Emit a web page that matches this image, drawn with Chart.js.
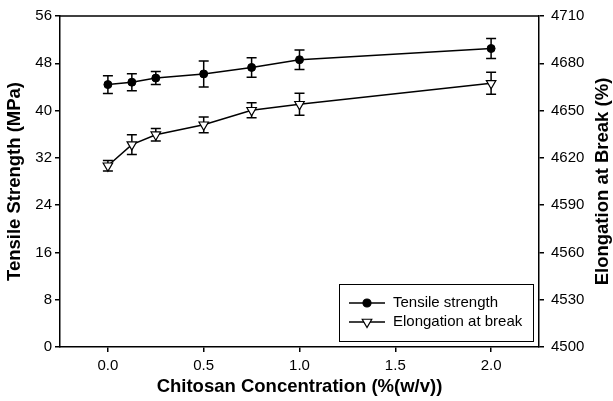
<!DOCTYPE html>
<html>
<head>
<meta charset="utf-8">
<title>Chitosan films</title>
<script src="https://cdn.jsdelivr.net/npm/chart.js@4.4.1/dist/chart.umd.min.js"></script>
<style>
  html, body { margin: 0; padding: 0; background: #fff; }
  #wrap { width: 613px; height: 401px; }
</style>
</head>
<body>
<div id="wrap"><canvas id="grafico" width="613" height="401"></canvas></div>
<script>
// concentração de quitosana (%(w/v))
const concentrations = [0, 0.125, 0.25, 0.5, 0.75, 1.0, 2.0];
// resistência à tração (MPa) e desvio
const tensileStrength = [44.4, 44.8, 45.5, 46.2, 47.3, 48.6, 50.5];
const tensileErr = [1.5, 1.45, 1.1, 2.2, 1.65, 1.65, 1.7];
// alongamento na ruptura (%) e desvio
const elongation = [4615, 4628.4, 4634.7, 4641, 4650.2, 4654, 4667.3];
const elongationErr = [3.4, 6.3, 4, 5, 4.7, 7, 7];

const xTicks = [0, 0.5, 1.0, 1.5, 2.0];
const leftTicks = [0, 8, 16, 24, 32, 40, 48, 56];
const rightTicks = [4500, 4530, 4560, 4590, 4620, 4650, 4680, 4710];

const fonte = 'Arial, "Liberation Sans", sans-serif';
const tamTitulo = 18.5;

function pontos(ys) {
    return concentrations.map((x, i) => ({ x: x, y: ys[i] }));
}

// barras de erro desenhadas com as escalas do próprio gráfico
const errorBarsPlugin = {
    id: 'errorBars',
    beforeDatasetsDraw(chart) {
        const ctx = chart.ctx;
        const xScale = chart.scales.x;
        chart.data.datasets.forEach(ds => {
            const yScale = chart.scales[ds.yAxisID];
            ctx.save();
            ctx.strokeStyle = '#000';
            ctx.lineWidth = 1.5;
            ds.data.forEach((p, i) => {
                const e = ds.errorBars[i];
                const px = xScale.getPixelForValue(p.x);
                const top = yScale.getPixelForValue(p.y + e);
                const bot = yScale.getPixelForValue(p.y - e);
                ctx.beginPath();
                ctx.moveTo(px, top); ctx.lineTo(px, bot);
                ctx.moveTo(px - 5, top); ctx.lineTo(px + 5, top);
                ctx.moveTo(px - 5, bot); ctx.lineTo(px + 5, bot);
                ctx.stroke();
            });
            ctx.restore();
        });
    }
};

function desenhaMarcador(ctx, ds, x, y) {
    ctx.beginPath();
    if (ds.pointStyle === 'circle') {
        ctx.arc(x, y, ds.pointRadius, 0, Math.PI * 2);
    } else {
        const r = ds.pointRadius;
        ctx.moveTo(x, y + r);
        ctx.lineTo(x - r * 0.866, y - r * 0.5);
        ctx.lineTo(x + r * 0.866, y - r * 0.5);
        ctx.closePath();
    }
    ctx.fillStyle = ds.pointBackgroundColor;
    ctx.fill();
    ctx.lineWidth = 1.2;
    ctx.strokeStyle = '#000';
    ctx.stroke();
}

// moldura superior, título do eixo direito e legenda dentro da área
const extrasPlugin = {
    id: 'extras',
    afterDraw(chart) {
        const ctx = chart.ctx;
        const area = chart.chartArea;
        ctx.save();
        ctx.strokeStyle = '#000';
        ctx.lineWidth = 1.5;
        ctx.beginPath();
        ctx.moveTo(area.left, area.top);
        ctx.lineTo(area.right, area.top);
        ctx.stroke();

        // título do eixo direito, lido de baixo para cima
        ctx.fillStyle = '#000';
        ctx.font = 'bold ' + tamTitulo + 'px ' + fonte;
        ctx.textAlign = 'center';
        ctx.textBaseline = 'middle';
        ctx.translate(603, (area.top + area.bottom) / 2);
        ctx.rotate(-Math.PI / 2);
        ctx.fillText('Elongation at Break (%)', 0, 0);
        ctx.restore();

        // legenda
        const bx = area.right - 200, by = area.bottom - 63;
        ctx.save();
        ctx.strokeStyle = '#000';
        ctx.lineWidth = 1;
        ctx.strokeRect(bx + 0.5, by + 0.5, 194, 57);
        ctx.font = '15px ' + fonte;
        ctx.textBaseline = 'middle';
        ctx.textAlign = 'left';
        ctx.fillStyle = '#000';
        chart.data.datasets.forEach((ds, i) => {
            const ly = by + 19 + i * 19;
            ctx.strokeStyle = '#000';
            ctx.lineWidth = 1.5;
            ctx.beginPath();
            ctx.moveTo(bx + 10, ly);
            ctx.lineTo(bx + 46, ly);
            ctx.stroke();
            desenhaMarcador(ctx, ds, bx + 28, ly);
            ctx.fillStyle = '#000';
            ctx.fillText(ds.label, bx + 54, ly);
        });
        ctx.restore();
    }
};

function eixo(extra) {
    return Object.assign({
        grid: { drawOnChartArea: false, drawTicks: true, tickLength: 5, color: '#000', lineWidth: 1.5 },
        border: { display: true, color: '#000', width: 1.5 },
        ticks: { color: '#000', font: { family: fonte, size: 15 }, padding: 3, callback: v => String(v) }
    }, extra);
}

new Chart(document.getElementById('grafico'), {
    type: 'line',
    data: {
        datasets: [{
            label: 'Tensile strength',
            data: pontos(tensileStrength),
            errorBars: tensileErr,
            yAxisID: 'y',
            borderColor: '#000',
            borderWidth: 1.5,
            pointStyle: 'circle',
            pointRadius: 4,
            pointBackgroundColor: '#000',
            pointBorderColor: '#000',
            pointBorderWidth: 1,
            tension: 0
        }, {
            label: 'Elongation at break',
            data: pontos(elongation),
            errorBars: elongationErr,
            yAxisID: 'y2',
            borderColor: '#000',
            borderWidth: 1.5,
            pointStyle: 'triangle',
            rotation: 180,
            pointRadius: 5.5,
            pointBackgroundColor: '#fff',
            pointBorderColor: '#000',
            pointBorderWidth: 1.2,
            tension: 0
        }]
    },
    options: {
        responsive: false,
        animation: false,
        devicePixelRatio: 1,
        layout: { padding: { top: 14, left: 0, right: 0, bottom: 0 } },
        plugins: { legend: { display: false }, tooltip: { enabled: false } },
        scales: {
            x: eixo({
                type: 'linear',
                min: -0.25,
                max: 2.25,
                afterBuildTicks: axis => { axis.ticks = xTicks.map(v => ({ value: v })); },
                afterFit: axis => { axis.height = 54; },
                ticks: {
                    color: '#000', font: { family: fonte, size: 15 }, padding: 5, maxRotation: 0,
                    callback: v => Number(v).toFixed(1)
                },
                title: {
                    display: true, text: 'Chitosan Concentration (%(w/v))', color: '#000',
                    font: { family: fonte, size: tamTitulo, weight: 'bold' }, padding: { top: 0, bottom: 3 }
                }
            }),
            y: eixo({
                position: 'left',
                min: 0,
                max: 56,
                afterBuildTicks: axis => { axis.ticks = leftTicks.map(v => ({ value: v })); },
                afterFit: axis => { axis.width = 60; },
                title: {
                    display: true, text: 'Tensile Strength (MPa)', color: '#000',
                    font: { family: fonte, size: tamTitulo, weight: 'bold' }, padding: { top: 4, bottom: 0 }
                }
            }),
            y2: eixo({
                position: 'right',
                min: 4500,
                max: 4710,
                afterBuildTicks: axis => { axis.ticks = rightTicks.map(v => ({ value: v })); },
                afterFit: axis => { axis.width = 74; },
                ticks: { color: '#000', font: { family: fonte, size: 15 }, padding: 7, callback: v => String(v) }
            })
        }
    },
    plugins: [errorBarsPlugin, extrasPlugin]
});
</script>
</body>
</html>
